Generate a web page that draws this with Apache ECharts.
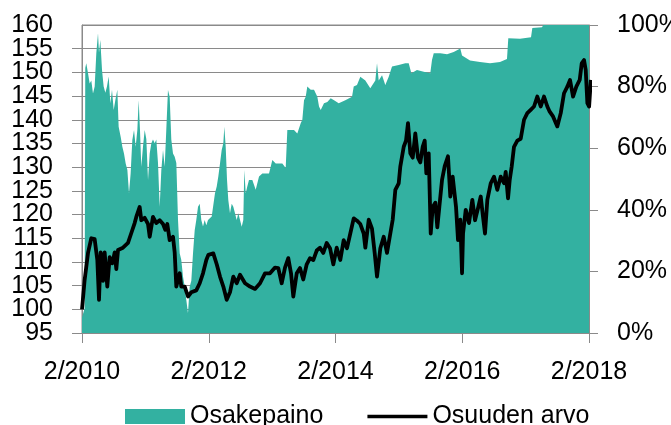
<!DOCTYPE html>
<html>
<head>
<meta charset="utf-8">
<script src="https://cdn.jsdelivr.net/npm/echarts@6/dist/echarts.min.js"></script>
<style>html,body{margin:0;padding:0;background:#fff}#c{width:671px;height:425px}</style>
</head>
<body>
<div id="c"></div>
<script>
// x values are months since 2/2010
const xTickLabels = ['2/2010','2/2012','2/2014','2/2016','2/2018'];
const leftTicks = [95,100,105,110,115,120,125,130,135,140,145,150,155,160];
const rightTicks = ['0%','20%','40%','60%','80%','100%'];

// Osuuden arvo (left axis)
const lineMonths = [0,0.5,1.14,1.76,2.4,2.9,3.22,3.54,3.98,4.29,4.79,5.24,5.74,6.19,6.5,6.82,7.76,8.71,9.34,9.97,10.28,10.92,11.23,11.87,12.5,12.82,13.44,14.07,14.71,15.34,15.77,16.15,16.6,17.23,17.55,17.86,18.18,18.5,18.8,19.45,20.07,20.7,21.64,22.29,22.91,23.54,
23.92,24.86,25.51,26.13,26.76,27.4,28.02,28.65,29.29,29.92,30.87,31.81,32.76,33.71,34.65,35.6,36.55,37.17,37.81,38.44,39.06,39.58,40.01,40.66,41.28,41.9,42.55,43.17,43.8,44.44,45.07,45.69,46.34,46.96,47.59,48.23,
48.91,49.55,50.18,50.8,51.45,52.07,52.7,53.34,53.65,54.29,54.91,55.42,55.86,56.49,57.13,57.75,58.38,58.83,59.33,59.97,60.27,60.92,61.35,61.73,62.17,62.62,63.11,63.62,64.06,64.51,64.89,65.2,65.65,66.03,66.41,66.9,67.28,67.66,68.17,68.68,69.3,69.74,70.19,70.82,71.2,71.63,71.96,
72.15,72.66,73.28,73.91,74.42,75.04,75.5,75.93,76.31,76.75,77.39,78.02,78.64,79.28,79.91,80.23,80.67,80.99,81.37,81.8,82.43,83.07,83.7,84.32,84.96,85.59,86.21,86.86,87.48,88.11,88.56,89.19,90,90.65,91.27,91.9,92.41,92.98,93.6,94.24,94.62,95.06,95.38,95.69,96.02,96.35];
const lineValues = [100,106.2,111.9,115,114.8,110.4,102,112,106,112,104.8,111,109.7,112,108.5,112.5,113,114,116.1,118.2,119.5,121.6,118.8,119.3,118,115.3,119.5,118.2,118.8,118,116.8,118,114.6,115.3,112,104.8,104.5,107.6,104.8,104.8,102.7,103.6,104,105.5,107.6,110.4,
111.5,111.8,109.5,106.9,104.8,102,103.6,106.9,105.5,107.3,105.5,104.8,104.3,105.5,107.6,107.6,108.8,108.7,105.5,108.8,110.8,107.6,102.7,107.6,108.7,106.3,109.5,110.8,110.4,112.4,113,111.9,114,112.9,109.5,113,
110.4,114.6,112.9,116,119.2,118.7,118,116,113,118.9,117,111.9,106.9,112.9,115.3,111.9,116,118.9,125.2,126.6,130.1,134.3,135.6,139.3,132.9,132,137.1,132,131,134.3,135.6,128.7,132.9,116,121.6,122.5,117.3,121.6,127.3,130.2,132.3,123.8,128,121.6,114.6,118.9,107.6,
116,121,118.2,123.1,118.8,121.6,123.8,119.5,116,123.1,126.6,128,125.2,128,126.6,129,123.4,127.3,130.2,134.3,135.6,136,140,141.4,142.1,142.8,144.9,142.8,144.9,142.8,141.7,140.7,138.6,141.4,145.6,147,148.4,144.9,147,148.4,151.9,152.6,150.5,143.5,142.8,148.4];

// Osakepaino (right axis, %)
const areaMonths = [0,0.5,0.62,0.81,1.14,1.45,1.76,2.08,2.4,2.71,3.03,3.22,3.47,3.79,4.1,4.42,4.73,5.05,5.37,5.68,6,6.31,6.69,6.94,7.32,7.64,7.95,8.27,8.59,8.9,9.21,9.53,9.85,10.16,10.48,10.73,10.98,11.23,11.55,11.87,12.18,12.5,12.82,13.13,13.44,13.77,14.07,14.39,14.71,15.02,15.34,15.66,15.96,16.28,16.6,16.91,17.23,17.55,17.86,18.18,18.5,18.8,19.13,19.45,19.75,20.07,20.39,20.7,21.02,21.34,21.64,21.97,22.29,22.59,22.91,23.23,23.54,23.86,
24.56,25.18,25.51,25.81,26.13,26.45,26.76,26.95,27.21,27.46,27.7,28.02,28.35,28.65,28.97,29.29,29.6,29.92,30.24,30.54,30.73,31,31.3,31.62,32.25,32.89,33.52,34.14,34.79,35.41,35.73,36.04,36.68,37.3,37.93,38.57,38.88,39.52,40.14,40.77,41.41,41.72,42.04,42.36,42.66,43.31,43.93,44.56,44.88,45.2,45.82,46.45,47.09,47.72,
48.61,49.86,51.13,51.45,52.07,52.7,53.65,54.59,55.54,55.86,56.18,56.81,57.43,58.08,58.7,59.97,61.22,61.86,62.36,63.43,64.7,65.95,66.27,66.6,67.85,69.12,70.38,71.63,71.96,
73.47,75.36,77.26,79.15,80.47,80.72,82.94,85.02,85.27,87.1,87.35,96.4];
const areaValues = [5,8,86,87.6,84.3,81,82,77.8,80,90.8,97.3,91,95.1,85.4,80,78,80,83.3,74.6,79,72.4,75.6,79,67,63.7,60.5,58.3,55,52.9,45.4,51.8,62.7,65.9,60.5,65.9,75.6,65.9,54,60.5,65.9,63,49.7,58.3,61.6,62.8,61.6,62.8,55.2,41,52.9,59.4,54,65.9,78.9,76.7,62.8,58.3,57.2,55.2,36.7,25.9,23.7,18.3,15,10.7,6.4,15,17,25.9,33.4,36.7,41,42,36.7,34.6,36.7,35,36.7,
37.8,45.4,47.6,50.8,55,59.4,61.6,67,60.5,49.7,43.2,38.9,42,41,38.9,36.7,38.9,38.9,34.5,36.7,52.9,45.4,47.6,49.7,49.7,46.5,50.8,51.8,51.8,51.8,54,56.2,55,55,55,53.6,65.9,65.9,65.9,64.8,68.1,69.2,75.6,76.7,80,79,79,76.7,73.5,72.4,74.6,75,76.2,75.6,
74.6,75.6,76.7,80,80.5,83.2,82,79.5,82,87.6,82,83.7,80.5,83.2,86.5,87,87.6,87.6,84.3,85.4,84.8,84.3,88.6,90.8,90.8,90.5,91.2,92.4,90.1,
88.5,88,87.6,88,89,95.7,95.5,96,99,99.3,100,100];

const teal = '#33b1a1';
const gray = '#8a8a8a';
const grayGrad = {type:'linear', x:0, y:0, x2:1, y2:0, colorStops:[{offset:0, color:gray},{offset:1, color:gray}]};
const font = "'Liberation Sans Narrow','Arial Narrow','Liberation Sans',sans-serif";
const fs = 25;
const leftIdx = v => Math.round((v - 95) / 5);

const chart = echarts.init(document.getElementById('c'), null, {renderer:'canvas'});
chart.setOption({
  animation:false,
  grid:{left:82, right:82, top:25, bottom:92, outerBoundsMode:'none', containLabel:false,
        show:true, borderColor:gray, borderWidth:1, backgroundColor:'transparent'},
  legend:{
    left:120, top:399, itemWidth:60, itemHeight:15, itemGap:44,
    textStyle:{fontFamily:font, fontSize:fs, color:'#000'},
    data:[{name:'Osakepaino', icon:'rect', itemStyle:{color:teal}},
          {name:'Osuuden arvo', icon:'path://M0,0H60V3.5H0Z', itemStyle:{color:'#000'}}]
  },
  xAxis:{
    type:'value', min:0, max:96, interval:24,
    axisLine:{show:true, lineStyle:{color:gray, width:1}},
    axisTick:{show:true, length:10, lineStyle:{color:gray}},
    splitLine:{show:false},
    axisLabel:{margin:27, color:'#000', fontFamily:font, fontSize:fs,
      formatter:v => xTickLabels[Math.round(v/24)] || ''}
  },
  yAxis:[{
    // left axis: line, ticks, gridlines, labels 95,105,...,155
    type:'value', min:95, max:160, interval:5, position:'left', z:1,
    axisLine:{show:true, lineStyle:{color:gray}},
    axisTick:{show:true, length:10, lineStyle:{color:gray}},
    splitLine:{show:true, lineStyle:{color:grayGrad, width:1}},
    axisLabel:{margin:29, color:'#000', fontFamily:font, fontSize:fs, showMinLabel:true, showMaxLabel:false,
      formatter:v => leftIdx(v) % 2 === 0 ? String(leftTicks[leftIdx(v)]) : ''}
  },{
    type:'value', min:0, max:100, interval:20, position:'right',
    axisLine:{show:true, lineStyle:{color:gray}},
    axisTick:{show:true, length:9, lineStyle:{color:gray}},
    splitLine:{show:false},
    axisLabel:{margin:28, color:'#000', fontFamily:font, fontSize:fs,
      formatter:v => rightTicks[Math.round(v/20)]}
  },{
    // same left scale: labels 100,110,...,160
    type:'value', min:95, max:160, interval:5, position:'left',
    axisLine:{show:false}, axisTick:{show:false}, splitLine:{show:false},
    axisLabel:{margin:29, color:'#000', fontFamily:font, fontSize:fs, showMinLabel:false, showMaxLabel:true,
      formatter:v => leftIdx(v) % 2 === 1 ? String(leftTicks[leftIdx(v)]) : ''}
  }],
  series:[{
    name:'Osakepaino', type:'line', yAxisIndex:1, symbol:'none', showSymbol:false,
    itemStyle:{color:teal}, lineStyle:{width:0, color:teal},
    areaStyle:{color:teal, opacity:1},
    data: areaMonths.map((m,i)=>[m, areaValues[i]]),
    z:2
  },{
    name:'Osuuden arvo', type:'line', yAxisIndex:0, symbol:'none', showSymbol:false,
    itemStyle:{color:'#000'}, lineStyle:{width:3.8, color:'#000', join:'round'},
    data: lineMonths.map((m,i)=>[m, lineValues[i]]),
    z:3
  }]
});
</script>
</body>
</html>
